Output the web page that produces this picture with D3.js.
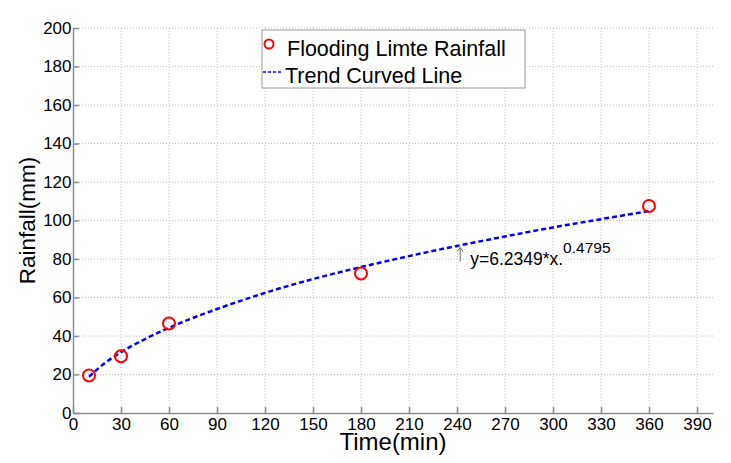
<!DOCTYPE html>
<html>
<head>
<meta charset="utf-8">
<script src="https://cdn.jsdelivr.net/npm/d3@7"></script>
<style>
  body { margin: 0; background: #fff; }
  text { font-family: "Liberation Sans", Arial, sans-serif; }
</style>
</head>
<body>
<div id="chart"></div>
<script>
// measured points
let timeMin = [10, 30, 60, 180, 360];
let rainfall = [19.5, 29.5, 46.5, 72.5, 107.5];

// trend curve
let trendX = [10, 20, 30, 45, 60, 90, 120, 150, 180, 210, 240, 270, 300, 330, 360];
let trendY = [18.8, 26.0, 31.6, 38.4, 44.3, 54.0, 62.4, 69.6, 75.8, 81.5, 86.8, 91.7, 96.4, 100.7, 104.9];

let xTicks = [0, 30, 60, 90, 120, 150, 180, 210, 240, 270, 300, 330, 360, 390];
let yTicks = [0, 20, 40, 60, 80, 100, 120, 140, 160, 180, 200];

var margin = { top: 28, right: 18, bottom: 50, left: 73 },
    width = 731 - margin.left - margin.right,
    height = 463 - margin.top - margin.bottom;

var svg = d3.select("#chart")
    .append("svg")
    .attr("width", 731)
    .attr("height", 463)
    .append("g")
    .attr("transform", "translate(" + margin.left + "," + margin.top + ")");

var x = d3.scaleLinear().domain([0, 400]).range([0, width]);
var y = d3.scaleLinear().domain([0, 200]).range([height, 0]);

// grid
svg.selectAll("vgrid")
    .data(xTicks.filter(function (d) { return d > 0; }))
    .enter()
    .append("line")
    .attr("x1", function (d) { return x(d); })
    .attr("x2", function (d) { return x(d); })
    .attr("y1", 0)
    .attr("y2", height)
    .attr("stroke", "#c0c0c0")
    .attr("stroke-dasharray", "1,2");

svg.selectAll("hgrid")
    .data(yTicks.filter(function (d) { return d > 0; }))
    .enter()
    .append("line")
    .attr("x1", 0)
    .attr("x2", width)
    .attr("y1", function (d) { return y(d); })
    .attr("y2", function (d) { return y(d); })
    .attr("stroke", "#c0c0c0")
    .attr("stroke-dasharray", "1,2");

// axes
var xAxis = svg.append("g")
    .attr("transform", "translate(0," + height + ")")
    .call(d3.axisBottom(x).tickValues(xTicks).tickSizeInner(-6).tickSizeOuter(0).tickPadding(5));
var yAxis = svg.append("g")
    .call(d3.axisLeft(y).tickValues(yTicks).tickSizeInner(-6).tickSizeOuter(0).tickPadding(1.5));

[xAxis, yAxis].forEach(function (a) {
    a.select(".domain").attr("stroke", "#8c8c8c").attr("stroke-width", 1.5);
    a.selectAll(".tick line").attr("stroke", "#8c8c8c").attr("stroke-width", 1.5);
    a.selectAll("text").attr("fill", "#000").style("font-size", "17px")
        .style("font-family", "'Liberation Sans', Arial, sans-serif");
});

// trend line
var line = d3.line()
    .x(function (d, i) { return x(trendX[i]); })
    .y(function (d) { return y(d); })
    .curve(d3.curveMonotoneX);

svg.append("path")
    .datum(trendY)
    .attr("d", line)
    .attr("fill", "none")
    .attr("stroke", "#0000ff")
    .attr("stroke-width", 2.5)
    .attr("stroke-dasharray", "5,3");

// points
svg.selectAll("mycircle")
    .data(timeMin)
    .enter()
    .append("circle")
    .attr("cx", function (d) { return x(d); })
    .attr("cy", function (d, i) { return y(rainfall[i]); })
    .attr("r", 6)
    .attr("fill", "none")
    .attr("stroke", "#ff0000")
    .attr("stroke-width", 2);

// annotation
var ax = x(242), ay = y(86.5);
svg.append("line")
    .attr("x1", ax).attr("x2", ax)
    .attr("y1", ay + 1).attr("y2", ay + 15)
    .attr("stroke", "#666").attr("stroke-width", 1);
svg.append("path")
    .attr("d", "M" + (ax - 3) + "," + (ay + 5) + " L" + ax + "," + (ay + 1) + " L" + (ax + 3) + "," + (ay + 5))
    .attr("fill", "none").attr("stroke", "#666").attr("stroke-width", 1);
var ann = svg.append("text")
    .attr("x", ax + 10)
    .attr("y", ay + 19)
    .style("font-size", "17.5px")
    .attr("fill", "#000");
ann.append("tspan").text("y=6.2349*x.");
ann.append("tspan").attr("dy", -12).style("font-size", "15.5px").text("0.4795");

// axis labels
svg.append("text")
    .attr("x", x(200))
    .attr("y", height + 37)
    .attr("text-anchor", "middle")
    .style("font-size", "24px")
    .text("Time(min)");

svg.append("text")
    .attr("transform", "translate(" + (-38) + "," + (height / 2) + ")rotate(-90)")
    .attr("text-anchor", "middle")
    .style("font-size", "22.5px")
    .text("Rainfall(mm)");

// legend
var lg = svg.append("g").attr("transform", "translate(" + (262 - margin.left) + "," + (30 - margin.top) + ")");
lg.append("rect")
    .attr("width", 263).attr("height", 58)
    .attr("fill", "#fff").attr("stroke", "#999").attr("stroke-width", 1);
lg.append("circle")
    .attr("cx", 7).attr("cy", 14).attr("r", 4.5)
    .attr("fill", "none").attr("stroke", "#ff0000").attr("stroke-width", 2);
lg.append("text")
    .attr("x", 25).attr("y", 26)
    .style("font-size", "21.5px")
    .text("Flooding Limte Rainfall");
lg.append("line")
    .attr("x1", 1).attr("x2", 21).attr("y1", 42).attr("y2", 42)
    .attr("stroke", "#0000ff").attr("stroke-width", 1.5).attr("stroke-dasharray", "3,2");
lg.append("text")
    .attr("x", 23).attr("y", 53)
    .style("font-size", "21.5px")
    .text("Trend Curved Line");
</script>
</body>
</html>
